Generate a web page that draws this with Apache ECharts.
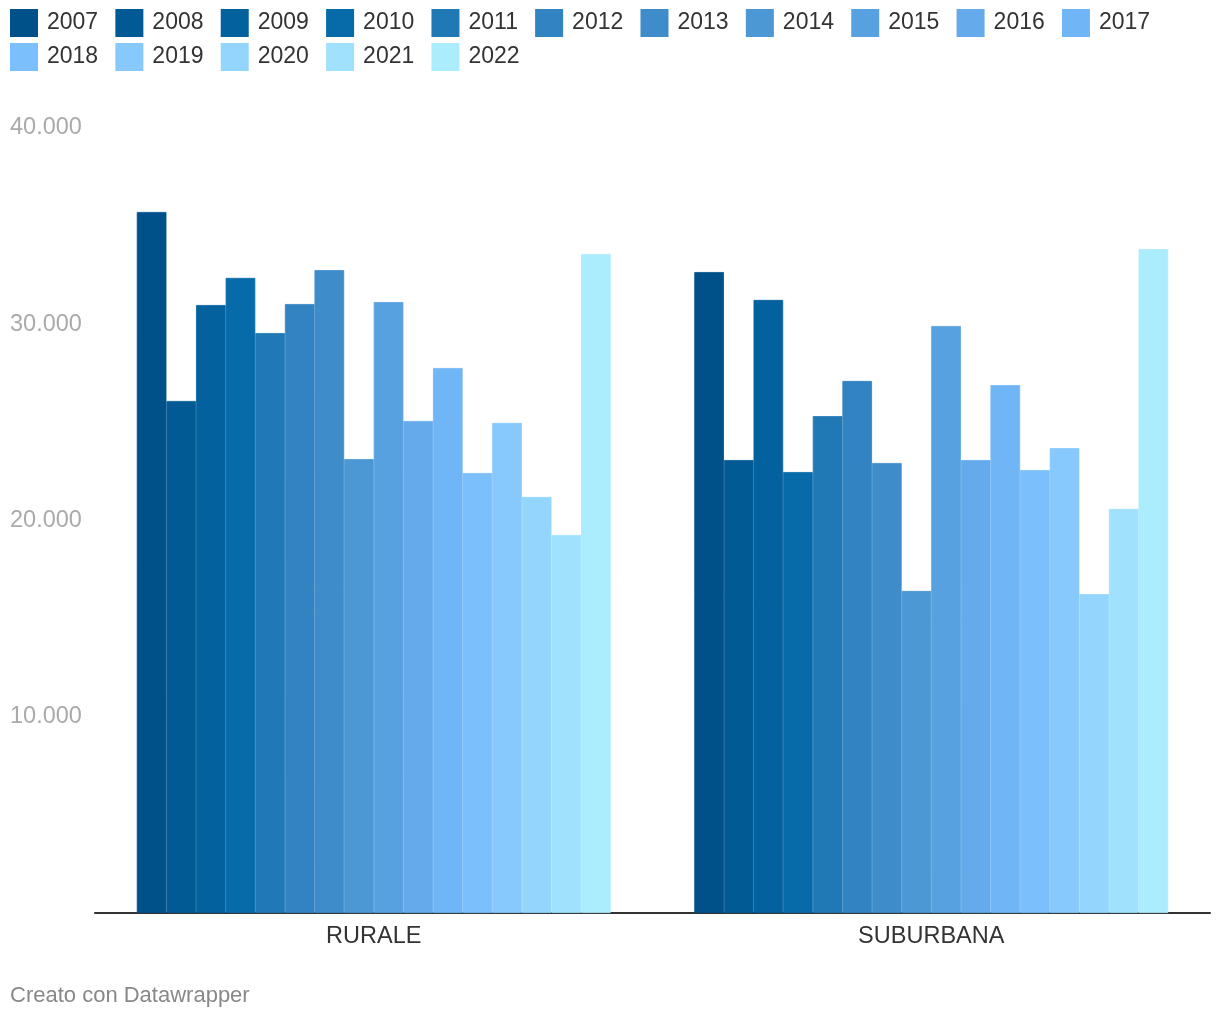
<!DOCTYPE html>
<html lang="it">
<head>
    <meta charset="UTF-8">
    <script type="text/javascript" src="https://cdn.jsdelivr.net/npm/echarts@6/dist/echarts.min.js"></script>
    <title>Rurale / Suburbana</title>
    <style>
        html, body { margin: 0; padding: 0; background: #fff; }
    </style>
</head>
<body>
<div id="chart" style="width: 1220px;height:1020px;"></div>
<script type="text/javascript">
    // dati
    var categories = ['RURALE', 'SUBURBANA'];
    var years = ['2007','2008','2009','2010','2011','2012','2013','2014','2015','2016','2017','2018','2019','2020','2021','2022'];
    var rurale = [35720, 26090, 30980, 32360, 29550, 31030, 32760, 23130, 31130, 25070, 27770, 22420, 24970, 21200, 19260, 33580];
    var suburbana = [32660, 23080, 31240, 22470, 25320, 27110, 22930, 16410, 29910, 23080, 26900, 22570, 23690, 16250, 20590, 33830];
    var yTicks = [0, 10000, 20000, 30000, 40000];

    var colors = ['#005189','#025a95','#03629e','#066ba8','#2079b5','#3283c1','#3e8cca','#4b98d5',
                  '#58a1e1','#65aaeb','#70b6f7','#7bbffd','#87c9fd','#94d5fe','#a0e1fe','#abecfd'];
    var font = '"Liberation Sans", Arial, sans-serif';

    var series = years.map(function (y, i) {
        return {
            name: y,
            type: 'bar',
            barGap: 0,
            barCategoryGap: '15%',
            // bordo dello stesso colore per chiudere le fessure tra le barre
            itemStyle: { color: colors[i], borderColor: colors[i], borderWidth: 0.8 },
            emphasis: { disabled: true },
            data: [rurale[i], suburbana[i]]
        };
    });

    function legendRow(names, top) {
        return {
            data: names,
            left: 10,
            top: top,
            orient: 'horizontal',
            icon: 'rect',
            itemWidth: 26,
            itemHeight: 26,
            itemGap: 17.2,
            padding: 0,
            textStyle: { fontFamily: font, fontSize: 23, color: '#333', padding: [0, 0, 0, 5] }
        };
    }

    var chart = echarts.init(document.getElementById('chart'));
    chart.setOption({
        backgroundColor: '#fff',
        animation: false,
        color: colors,
        legend: [legendRow(years.slice(0, 11), 9), legendRow(years.slice(11), 43)],
        grid: { left: 95, right: 10, top: 128, bottom: 107, containLabel: false },
        xAxis: {
            type: 'category',
            data: categories,
            axisLine: { lineStyle: { color: '#333', width: 2 } },
            axisTick: { show: false },
            axisLabel: { fontFamily: font, fontSize: 23.5, color: '#333', margin: 12 }
        },
        yAxis: {
            type: 'value',
            min: yTicks[0],
            max: yTicks[yTicks.length - 1],
            interval: 10000,
            splitLine: { show: false },
            axisLine: { show: false },
            axisTick: { show: false },
            axisLabel: {
                showMinLabel: false,
                align: 'left',
                margin: 85,
                fontFamily: font,
                fontSize: 23.5,
                color: '#aaa',
                formatter: function (v) {
                    return v === 0 ? '' : String(v).replace(/\B(?=(\d{3})+(?!\d))/g, '.');
                }
            }
        },
        graphic: [{
            type: 'text',
            left: 10,
            top: 985,
            style: { text: 'Creato con Datawrapper', fontFamily: font, fontSize: 22, fill: '#888' }
        }],
        series: series
    });
</script>
</body>
</html>
